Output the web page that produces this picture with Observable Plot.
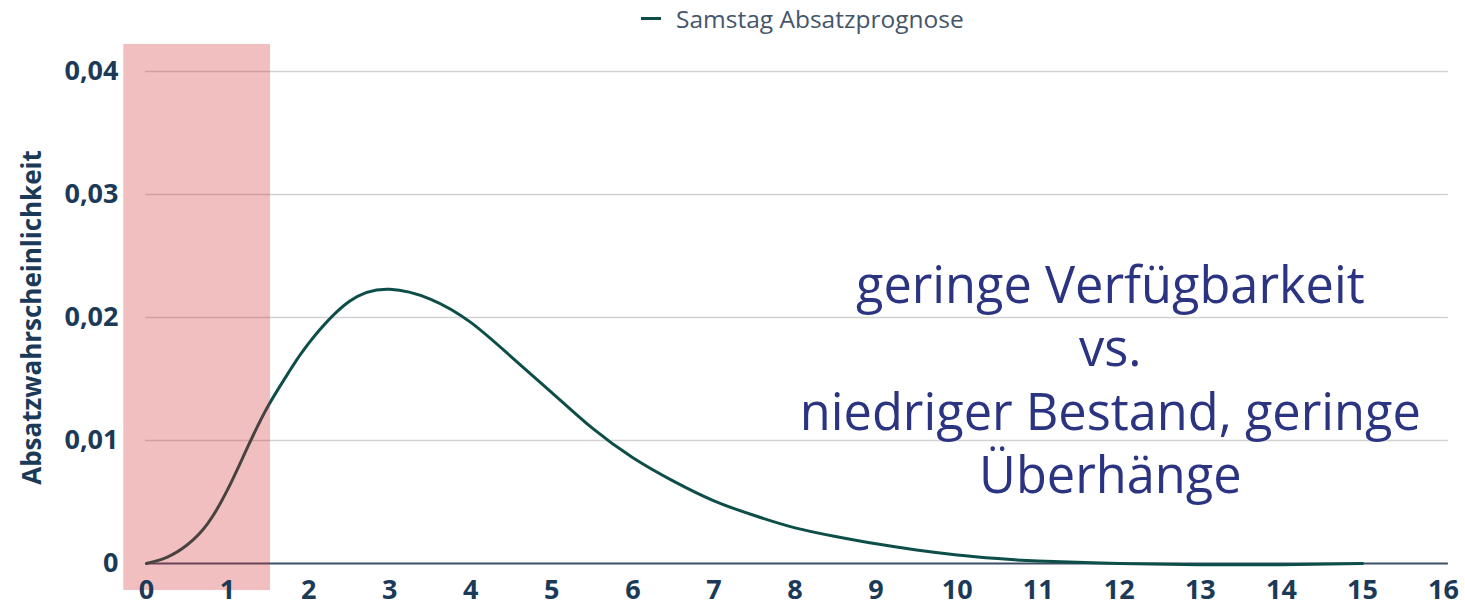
<!DOCTYPE html>
<html>
<head>
<meta charset="utf-8">
<script src="https://cdn.jsdelivr.net/npm/d3@7"></script>
<script src="https://cdn.jsdelivr.net/npm/@observablehq/plot@0.6"></script>
<style>
  html, body { margin: 0; padding: 0; background: #fff; }
  #wrap { position: relative; width: 1465px; height: 606px; }
  #legend { position: relative; height: 36px; font-family: "Open Sans", sans-serif; font-size: 24.5px; line-height: 1; color: #45566a; }
  #legend .sw { position: absolute; left: 641px; top: 17px; width: 20px; height: 3px; background: #0d4e49; }
  #legend .lab { position: absolute; left: 676px; top: 7px; white-space: nowrap; }
  svg { display: block; }
</style>
</head>
<body>
<div id="wrap">
  <div id="legend"><span class="sw"></span><span class="lab"></span></div>
  <div id="chart"></div>
</div>
<script>
const seriesName = "Samstag Absatzprognose";
const yTitle = "Absatzwahrscheinlichkeit";
const xValues = [0, 0.25, 0.5, 0.75, 1, 1.25, 1.5, 1.75, 2, 2.5, 3, 3.5, 4, 4.5, 5, 5.5, 6, 6.5, 7, 7.5, 8, 8.5, 9, 9.5, 10, 10.5, 11, 12, 13, 14, 15];
const yValues = [0, 0.0005, 0.0015, 0.0032, 0.0060, 0.0095, 0.0128, 0.0155, 0.0179, 0.0213, 0.0223, 0.0215, 0.0196, 0.0168, 0.0139, 0.0110, 0.0086, 0.0067, 0.0051, 0.0039, 0.0029, 0.0022, 0.0016, 0.0011, 0.0007, 0.0004, 0.0002, 0.0000, -0.0001, -0.0001, 0.0000];
const xTicks = [0, 1, 2, 3, 4, 5, 6, 7, 8, 9, 10, 11, 12, 13, 14, 15, 16];
const yTicks = [0, 0.01, 0.02, 0.03, 0.04];
const bandX = [-0.28, 1.53];
const bandY = [-0.0022, 0.0422];
const annotationLines = ["geringe Verfügbarkeit", "vs.", "niedriger Bestand, geringe", "Überhänge"];
const annotationPos = {x: 11.89, y: 0.0151};

document.querySelector("#legend .lab").textContent = seriesName;

const data = xValues.map((x, i) => ({x, y: yValues[i]}));
const fmt = d => d === 0 ? "0" : d.toFixed(2).replace(".", ",");

const chart = Plot.plot({
  width: 1465,
  height: 570,
  marginLeft: 146,
  marginRight: 22,
  marginTop: 35,
  marginBottom: 43,
  x: {domain: [0, 16]},
  y: {domain: [0, 0.04]},
  style: {fontFamily: "'Open Sans', sans-serif", background: "#fff"},
  marks: [
    Plot.ruleY(yTicks.filter(d => d !== 0), {x1: -0.01, x2: 16.06, stroke: "#d2d2d2", strokeWidth: 1.5}),
    Plot.ruleY([0], {x1: -0.01, x2: 16.06, stroke: "#3b5068", strokeWidth: 2}),
    Plot.line(data, {x: "x", y: "y", stroke: "#0d4e49", strokeWidth: 3, curve: "natural"}),
    Plot.rect([{x1: bandX[0], x2: bandX[1], y1: bandY[0], y2: bandY[1]}], {x1: "x1", x2: "x2", y1: "y1", y2: "y2", fill: "rgb(208,42,48)", fillOpacity: 0.3}),
    Plot.axisX(xTicks, {tickSize: 0, tickPadding: 16, fontSize: 27, fontWeight: "bold", fill: "#1b3a57", label: null}),
    Plot.axisY(yTicks, {tickSize: 0, tickPadding: 28, tickFormat: fmt, fontSize: 27, fontWeight: "bold", fill: "#1b3a57", label: null}),
    Plot.text([yTitle], {frameAnchor: "left", textAnchor: "middle", rotate: -90, dx: -114, fontSize: 26, fontWeight: "bold", fill: "#1b3a57"}),
    Plot.text([annotationLines.join("\n")], {x: annotationPos.x, y: annotationPos.y, textAnchor: "middle", lineAnchor: "middle", lineHeight: 1.25, fontSize: 50.5, fill: "#2b3481"})
  ]
});
document.getElementById("chart").appendChild(chart);
</script>
</body>
</html>
